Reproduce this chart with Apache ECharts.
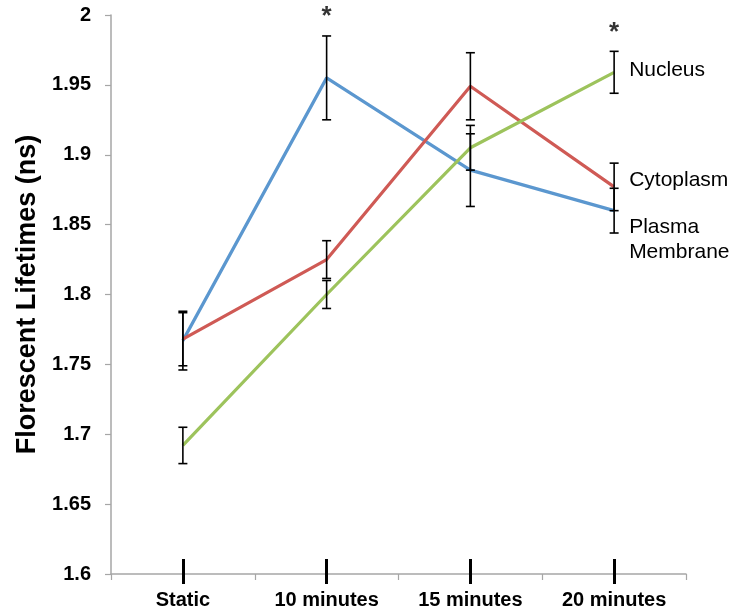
<!DOCTYPE html>
<html>
<head>
<meta charset="utf-8">
<script src="https://cdn.jsdelivr.net/npm/echarts@6/dist/echarts.min.js"></script>
<style>html,body{margin:0;padding:0;background:#fff}#c{width:738px;height:613px}</style>
</head>
<body>
<div id="c"></div>
<script>
const categories = ['Static', '10 minutes', '15 minutes', '20 minutes'];
const yTicks = { min: 1.6, max: 2.0, interval: 0.05 };
const plasmaMembrane = [1.767, 1.955, 1.889, 1.860];
const plasmaMembraneErr = [0.021, 0.030, 0.026, 0.016];
const cytoplasm = [1.768, 1.825, 1.949, 1.877];
const cytoplasmErr = [0.019, 0.0135, 0.024, 0.017];
const nucleus = [1.692, 1.800, 1.905, 1.959];
const nucleusErr = [0.013, 0.010, 0.016, 0.015];
// significance markers: [category index, which series]
const significance = [[1, 'plasma'], [3, 'nucleus']];

const seriesDefs = [
  { key: 'plasma', name: 'Plasma\nMembrane', values: plasmaMembrane, errs: plasmaMembraneErr, color: '#5B97CF', labelOffset: [0, 29] },
  { key: 'cyto', name: 'Cytoplasm', values: cytoplasm, errs: cytoplasmErr, color: '#CF5A55', labelOffset: [0, -7] },
  { key: 'nucleus', name: 'Nucleus', values: nucleus, errs: nucleusErr, color: '#9DC35C', labelOffset: [0, -2] }
];

const chart = echarts.init(document.getElementById('c'));
const series = [];
seriesDefs.forEach(d => {
  series.push({
    type: 'line',
    name: d.name,
    data: d.values,
    showSymbol: false,
    symbol: 'none',
    lineStyle: { color: d.color, width: 3.2 },
    itemStyle: { color: d.color },
    endLabel: {
      show: true, distance: 15, offset: d.labelOffset,
      formatter: () => d.name, color: '#000', fontSize: 21, lineHeight: 25,
      fontFamily: 'Liberation Sans, Arial, sans-serif'
    },
    z: 2,
    silent: true
  });
});
seriesDefs.forEach(d => {
  series.push({
    type: 'custom',
    name: d.key + '-err',
    data: d.values.map((v, i) => [i, v - d.errs[i], v + d.errs[i]]),
    renderItem: (params, api) => {
      const x = api.value(0);
      const lo = api.coord([x, api.value(1)]);
      const hi = api.coord([x, api.value(2)]);
      const cw = 4.5;
      const style = { stroke: '#000', lineWidth: 1.6 };
      return {
        type: 'group',
        children: [
          { type: 'line', shape: { x1: lo[0], y1: lo[1], x2: hi[0], y2: hi[1] }, style },
          { type: 'line', shape: { x1: lo[0] - cw, y1: lo[1], x2: lo[0] + cw, y2: lo[1] }, style },
          { type: 'line', shape: { x1: hi[0] - cw, y1: hi[1], x2: hi[0] + cw, y2: hi[1] }, style }
        ]
      };
    },
    z: 3,
    silent: true
  });
});
series.push({
  type: 'scatter',
  name: 'significance',
  symbolSize: 0,
  data: significance.map(([i, key]) => {
    const d = seriesDefs.find(s => s.key === key);
    return [i, d.values[i] + d.errs[i]];
  }),
  label: {
    show: true, position: 'top', distance: 6, formatter: '*',
    color: '#000', fontSize: 26, fontWeight: 'bold',
    fontFamily: 'Liberation Sans, Arial, sans-serif'
  },
  clip: false,
  silent: true,
  z: 4
});

chart.setOption({
  animation: false,
  grid: { left: 111, right: 52, top: 15, bottom: 39, containLabel: false },
  xAxis: [
    {
      type: 'category', data: categories, boundaryGap: true,
      axisLine: { lineStyle: { color: '#A6A6A6', width: 1.5 } },
      axisTick: { show: true, length: 6, lineStyle: { color: '#A6A6A6', width: 1.2 } },
      axisLabel: {
        color: '#000', fontSize: 20, fontWeight: 'bold', margin: 16,
        fontFamily: 'Liberation Sans, Arial, sans-serif', interval: 0
      }
    },
    {
      type: 'category', data: categories, boundaryGap: true, position: 'bottom', offset: 10,
      axisLine: { show: false },
      axisTick: { show: true, alignWithLabel: true, inside: true, length: 25, lineStyle: { color: '#000', width: 3 } },
      axisLabel: { show: false },
      splitLine: { show: false }
    }
  ],
  yAxis: {
    type: 'value', min: yTicks.min, max: yTicks.max, interval: yTicks.interval,
    name: 'Florescent Lifetimes (ns)', nameLocation: 'middle', nameGap: 68,
    nameTextStyle: {
      color: '#000', fontSize: 27, fontWeight: 'bold',
      fontFamily: 'Liberation Sans, Arial, sans-serif'
    },
    axisLine: { show: true, lineStyle: { color: '#A6A6A6', width: 1.5 } },
    axisTick: { show: true, length: 6, lineStyle: { color: '#A6A6A6', width: 1.2 } },
    splitLine: { show: false },
    axisLabel: {
      color: '#000', fontSize: 20, fontWeight: 'bold', margin: 20,
      fontFamily: 'Liberation Sans, Arial, sans-serif',
      formatter: v => String(+v.toFixed(2))
    }
  },
  series
});
</script>
</body>
</html>
